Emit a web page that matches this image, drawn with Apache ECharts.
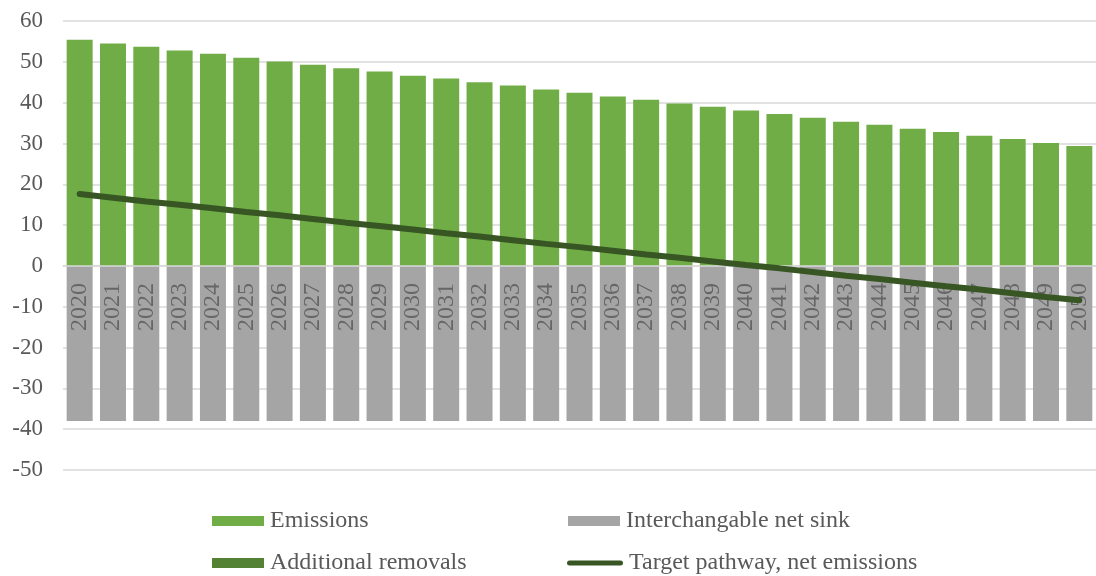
<!DOCTYPE html>
<html>
<head>
<meta charset="utf-8">
<script src="https://cdn.jsdelivr.net/npm/echarts@6/dist/echarts.min.js"></script>
<style>
  html, body { margin: 0; padding: 0; background: #ffffff; }
  #chart { width: 1096px; height: 576px; }
</style>
</head>
<body>
<div id="chart"></div>
<script>
// Years on the category axis
const years = [
  '2020','2021','2022','2023','2024','2025','2026','2027','2028','2029','2030',
  '2031','2032','2033','2034','2035','2036','2037','2038','2039','2040',
  '2041','2042','2043','2044','2045','2046','2047','2048','2049','2050'
];

// Gross emissions
const emissions = [
  55.4, 54.5, 53.7, 52.8, 52.0, 51.0, 50.1, 49.3, 48.4, 47.6, 46.6,
  45.9, 45.0, 44.2, 43.2, 42.4, 41.5, 40.7, 39.8, 39.0, 38.1,
  37.2, 36.3, 35.3, 34.6, 33.6, 32.8, 31.9, 31.1, 30.1, 29.4
];

// Interchangeable net sink (negative)
const netSink = [
  -38, -38, -38, -38, -38, -38, -38, -38, -38, -38, -38,
  -38, -38, -38, -38, -38, -38, -38, -38, -38, -38,
  -38, -38, -38, -38, -38, -38, -38, -38, -38, -38
];

// Additional removals (none needed in this pathway)
const additionalRemovals = [
  null, null, null, null, null, null, null, null, null, null, null,
  null, null, null, null, null, null, null, null, null, null,
  null, null, null, null, null, null, null, null, null, null
];

// Target pathway for net emissions
const targetPathway = [
  17.6, 16.7, 15.8, 15.0, 14.1, 13.2, 12.4, 11.5, 10.6, 9.8, 8.9,
  8.0, 7.2, 6.3, 5.4, 4.6, 3.7, 2.8, 2.0, 1.1, 0.2,
  -0.6, -1.5, -2.4, -3.2, -4.1, -5.0, -5.8, -6.7, -7.6, -8.4
];

const yTicks = { min: -50, max: 60, interval: 10 };

const gridTop = 21;
const gridBottom = 106;
const chartHeight = 576;

// Vertical offset that lifts the category axis from the grid bottom up to the zero line
const plotHeight = chartHeight - gridTop - gridBottom;
const zeroOffset = -plotHeight * (0 - yTicks.min) / (yTicks.max - yTicks.min);

const chart = echarts.init(document.getElementById('chart'), null, { renderer: 'canvas' });

const legendText = { fontFamily: 'Liberation Serif', fontSize: 24, color: '#595959' };
function legendAt(left, top, item, extra) {
  return Object.assign({
    orient: 'horizontal', left: left, top: top, padding: 0,
    itemWidth: 52, itemHeight: 10, itemGap: 0,
    textStyle: Object.assign({ padding: [0, 0, 0, 1] }, legendText),
    selectedMode: false,
    data: [item]
  }, extra || {});
}

chart.setOption({
  animation: false,
  backgroundColor: '#ffffff',
  grid: { left: 63, top: gridTop, width: 1035, bottom: gridBottom, containLabel: false },
  legend: [
    legendAt(212, 509, { name: 'Emissions', icon: 'rect' }),
    legendAt(212, 551, { name: 'Additional removals', icon: 'rect' }),
    legendAt(568, 509, { name: 'Interchangable net sink', icon: 'rect' }),
    legendAt(567, 551, {
      name: 'Target pathway, net emissions',
      icon: 'path://M2.5,0 L53.5,0 A2.5,2.5 0 0 1 53.5,5 L2.5,5 A2.5,2.5 0 0 1 2.5,0 Z'
    }, { itemHeight: 5, itemWidth: 56 })
  ],
  xAxis: {
    type: 'category',
    data: years,
    position: 'bottom',
    offset: zeroOffset,
    axisLine: { onZero: false, lineStyle: { color: '#D9D9D9', width: 1.5 } },
    axisTick: { show: false },
    axisLabel: {
      rotate: 90,
      margin: 17,
      fontFamily: 'Liberation Sans Narrow',
      fontSize: 24,
      color: '#666666'
    },
    z: 10
  },
  yAxis: {
    type: 'value',
    min: yTicks.min,
    max: yTicks.max,
    interval: yTicks.interval,
    axisLine: { show: false },
    axisTick: { show: false },
    axisLabel: {
      margin: 20,
      fontFamily: 'Liberation Serif',
      fontSize: 23,
      color: '#595959'
    },
    splitLine: { lineStyle: { color: '#D9D9D9', width: 1.5 } }
  },
  series: [
    {
      name: 'Emissions',
      type: 'bar',
      stack: 'total',
      barCategoryGap: '22%',
      data: emissions,
      itemStyle: { color: '#70AD47' }
    },
    {
      name: 'Interchangable net sink',
      type: 'bar',
      stack: 'total',
      data: netSink,
      itemStyle: { color: '#A5A5A5' }
    },
    {
      name: 'Additional removals',
      type: 'bar',
      stack: 'total',
      data: additionalRemovals,
      itemStyle: { color: '#548235' }
    },
    {
      name: 'Target pathway, net emissions',
      type: 'line',
      data: targetPathway,
      symbol: 'none',
      lineStyle: { color: '#375623', width: 6, cap: 'round' },
      itemStyle: { color: '#375623' },
      z: 20
    }
  ]
});
</script>
</body>
</html>
